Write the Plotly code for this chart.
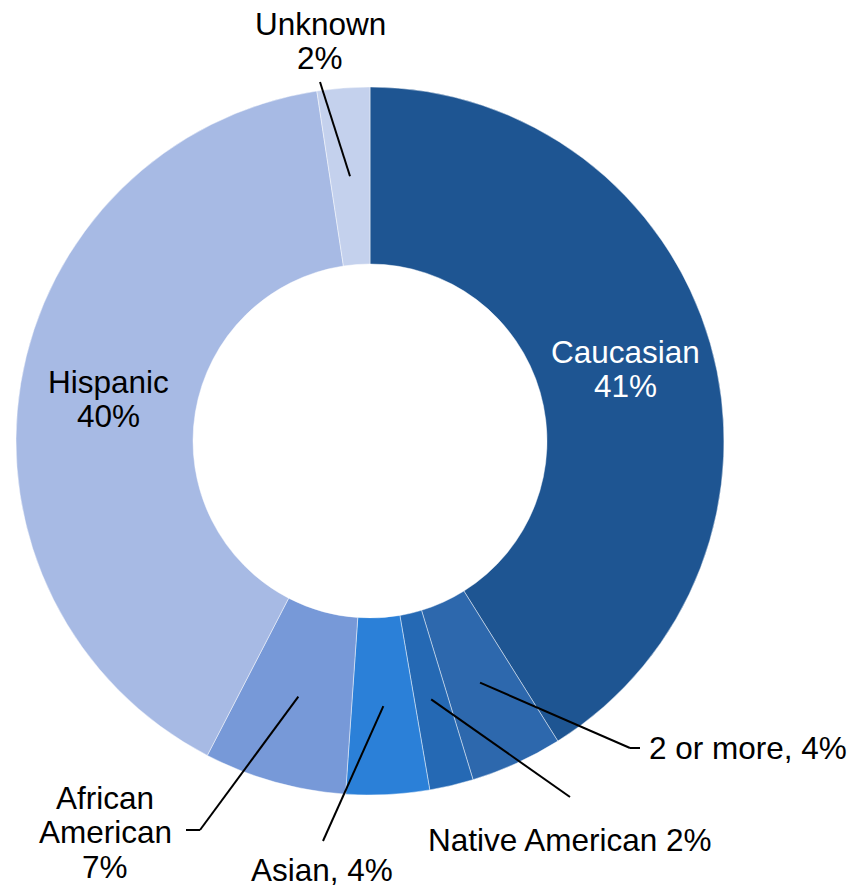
import math
import plotly.graph_objects as go

categories = ["Caucasian", "2 or more", "Native American", "Asian", "African American", "Hispanic", "Unknown"]
values = [41.1, 4.2, 2.0, 3.8, 6.5, 40.0, 2.4]
label_lines = [
    ["Caucasian", "41%"],
    ["2 or more, 4%"],
    ["Native American 2%"],
    ["Asian, 4%"],
    ["African", "American", "7%"],
    ["Hispanic", "40%"],
    ["Unknown", "2%"],
]
colors = ["#1e5592", "#2d68ad", "#2569b4", "#2b80d8", "#7799d8", "#a7bae4", "#c4d1ed"]
text_colors = ["white", "black", "black", "black", "black", "black", "black"]

W, H = 851, 889
CX, CY, R_OUT = 370, 441, 354
HOLE = 0.5
R_MID = R_OUT * (1 + HOLE) / 2
FS = 31.5
LS = 34.5

# label placement (pixels): text center, leader elbow/end
inside = {"Caucasian": (625, 369), "Hispanic": (108, 399)}
outside = {
    "Unknown": dict(text=(320, 41), pts=[(320, 82)], anchor="center"),
    "2 or more": dict(text=(647, 748), pts=[(630, 748), (640, 748)], anchor="left"),
    "Native American": dict(text=(570, 840), pts=[(570, 797)], anchor="center"),
    "Asian": dict(text=(322, 870), pts=[(323, 841)], anchor="center"),
    "African American": dict(text=(105, 832), pts=[(200, 830), (186, 830)], anchor="center"),
}

def px(x):
    return x / W

def py(y):
    return 1 - y / H

fig = go.Figure(go.Pie(
    labels=categories, values=values, sort=False, direction="clockwise", rotation=0,
    hole=HOLE, textinfo="none", hoverinfo="label+percent",
    marker=dict(colors=colors, line=dict(color="rgba(255,255,255,0.45)", width=1)),
    domain=dict(x=[px(CX - R_OUT), px(CX + R_OUT)], y=[py(CY + R_OUT), py(CY - R_OUT)]),
    showlegend=False,
))

total = sum(values)
cum = 0
shapes = []
annotations = []
for cat, v, lines, tc in zip(categories, values, label_lines, text_colors):
    theta = 2 * math.pi * (cum + v / 2) / total
    cum += v
    if cat in inside:
        tx, ty = inside[cat]
        anchor = "center"
    else:
        o = outside[cat]
        sx = CX + R_MID * math.sin(theta)
        sy = CY - R_MID * math.cos(theta)
        pts = [(sx, sy)] + o["pts"]
        for (x0, y0), (x1, y1) in zip(pts[:-1], pts[1:]):
            shapes.append(dict(type="line", xref="paper", yref="paper",
                               x0=px(x0), y0=py(y0), x1=px(x1), y1=py(y1),
                               line=dict(color="black", width=2)))
        tx, ty = o["text"]
        anchor = o["anchor"]
    n = len(lines)
    for i, ln in enumerate(lines):
        yy = ty + (i - (n - 1) / 2) * LS
        annotations.append(dict(text=ln, x=px(tx), y=py(yy), xref="paper", yref="paper",
                                xanchor=anchor, yanchor="middle", showarrow=False,
                                font=dict(family="Liberation Sans, Arial, sans-serif", size=FS, color=tc)))

fig.update_layout(width=W, height=H, margin=dict(l=0, r=0, t=0, b=0),
                  paper_bgcolor="white", plot_bgcolor="white",
                  shapes=shapes, annotations=annotations)

fig.write_html("out.html", config={"displayModeBar": False},
               post_script="document.body.style.margin='0';")
